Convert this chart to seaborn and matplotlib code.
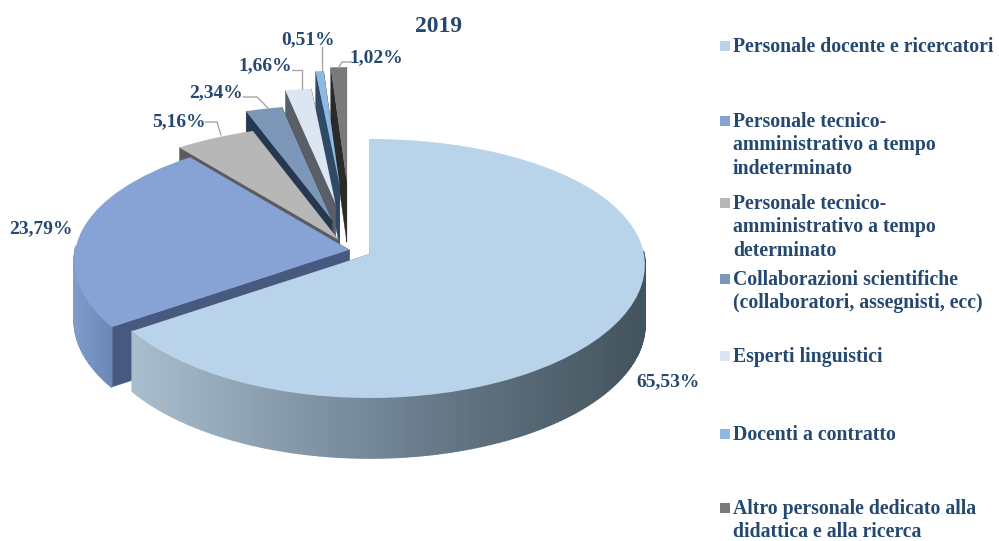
import numpy as np
import matplotlib
matplotlib.use("Agg")
import matplotlib.pyplot as plt
from matplotlib.collections import PolyCollection
from matplotlib.colors import LinearSegmentedColormap
from matplotlib.transforms import Transform
import seaborn as sns

categories = ["Personale docente e ricercatori",
              "Personale tecnico-\namministrativo a tempo\nindeterminato",
              "Personale tecnico-\namministrativo a tempo\ndeterminato",
              "Collaborazioni scientifiche\n(collaboratori, assegnisti, ecc)",
              "Esperti linguistici",
              "Docenti a contratto",
              "Altro personale dedicato alla\ndidattica e alla ricerca"]
values = [65.53, 23.79, 5.16, 2.34, 1.66, 0.51, 1.02]
explode = [0.074, 0.01, 0.10, 0.27, 0.41, 0.56, 0.59]
top_colors = ["#B9D3EA", "#87A3D6", "#B7B7B7", "#7D97B8", "#DCE6F2", "#8FB9E0", "#7A7A7A"]
cut_colors = ["#6F8496", "#47597F", "#5C5C5C", "#25384F", "#5A5E66", "#2F4A66", "#2A2A2A"]
rim_colors = [["#A9BECD", "#8296A8", "#5F717F", "#44545E"],
              ["#7F9CCB", "#6A87B6"],
              ["#4A4A4A", "#4A4A4A"], ["#3A4E68", "#3A4E68"], ["#8A8F98", "#8A8F98"],
              ["#3F6080", "#3F6080"], ["#3A3A3A", "#3A3A3A"]]
title = "2019"
label_pos = [(668, 382), (41, 229), (179, 122), (216, 93), (265, 66), (308, 40), (376, 58)]
leaders = [None, None,
           [(205, 122), (217, 122), (221, 135)],
           [(243, 97), (257, 97), (268, 108)],
           [(292, 70), (302, 70), (302, 89)],
           [(322, 47), (322, 71)],
           [(352, 62), (342, 62), (339, 67)]]
legend_y = [37, 112, 194, 270, 347, 425, 499]

TEXT = "#24486F"
CX, CY, RX, RY_MID, RY_K, DEPTH = 352, 250, 274, 129.5, 14.5, 60

sns.set_theme(style="white")
plt.rcParams["font.family"] = ["Liberation Serif", "DejaVu Serif"]
palette = sns.color_palette(top_colors)


def shape(x, y):
    """Tilted-disc outline around a slice's own tip, in pixels."""
    return x * RX * (1 - 0.085 * y), -y * (RY_MID - RY_K * y)


class Tilt(Transform):
    input_dims = output_dims = 2
    has_inverse = False

    def __init__(self, center):
        super().__init__()
        self.center = center

    def transform_non_affine(self, values):
        v = np.asarray(values, float)
        dx, dy = shape(v[:, 0] - self.center[0], v[:, 1] - self.center[1])
        return np.column_stack([CX + self.center[0] * RX + dx,
                                CY - self.center[1] * 115 + dy])


fig = plt.figure(figsize=(9.99, 5.41), dpi=100)
ax = fig.add_axes([0, 0, 1, 1])
wedges, _ = ax.pie(values, explode=explode, startangle=90, counterclock=False,
                   colors=palette, wedgeprops=dict(linewidth=0))
ax.set_aspect("auto")
ax.set_xlim(0, 999)
ax.set_ylim(541, 0)
ax.axis("off")

order = [6, 5, 4, 3, 2, 1, 0]
for rank, i in enumerate(order):
    w = wedges[i]
    base = rank * 10 + 1
    tilt = Tilt(w.center)
    w.set_transform(tilt + ax.transData)
    w.set_zorder(base + 2)

    def pt(theta, r=1.0):
        t = np.radians(theta)
        return tilt.transform_non_affine(
            np.column_stack([w.center[0] + r * np.cos(t), w.center[1] + r * np.sin(t)]))

    # radial cut faces
    tip = np.array([[*tilt.transform_non_affine(np.array([w.center]))[0]]])
    for th in (w.theta1, w.theta2):
        e = pt(np.array([th]))
        quad = np.vstack([tip, e, e + [0, DEPTH], tip + [0, DEPTH]])
        ax.fill(quad[:, 0], quad[:, 1], color=cut_colors[i], lw=0.3, zorder=base)

    # outer rim, shaded along x
    th = np.arange(w.theta1, w.theta2 + 1.0, 1.0)
    th[-1] = min(th[-1], w.theta2)
    th = th[np.sin(np.radians(th)) <= 0.03]
    if th.size > 1:
        arc = pt(th)
        cmap = LinearSegmentedColormap.from_list("rim", rim_colors[i])
        xs = arc[:, 0]
        span = max(xs.max() - xs.min(), 1)
        polys, cols = [], []
        for a, b in zip(arc[:-1], arc[1:]):
            polys.append([a, b, b + [0, DEPTH], a + [0, DEPTH]])
            cols.append(cmap((a[0] - xs.min()) / span))
        ax.add_collection(PolyCollection(polys, facecolors=cols, edgecolors=cols,
                                         linewidths=1.2, zorder=base + 1))

for v, (x, y), lead in zip(values, label_pos, leaders):
    ax.text(x, y, f"{v:.2f}%".replace(".", ","), ha="center", va="center",
            fontsize=14, fontweight="bold", color=TEXT, zorder=100)
    if lead:
        ax.plot(*zip(*lead), color="#A6A6A6", lw=1, zorder=99)

ax.text(439, 27, title, ha="center", va="center", fontsize=17, fontweight="bold",
        color=TEXT, zorder=100)

for name, y, c in zip(categories, legend_y, palette):
    ax.text(733, y, name, ha="left", va="top", fontsize=14.2, fontweight="bold",
            color=TEXT, linespacing=1.22, zorder=100)
    ax.plot([724.5], [y + 9], marker="s", ms=6.6, mew=0, color=c, zorder=100)

fig.savefig("out.png", dpi=100, facecolor="white")
